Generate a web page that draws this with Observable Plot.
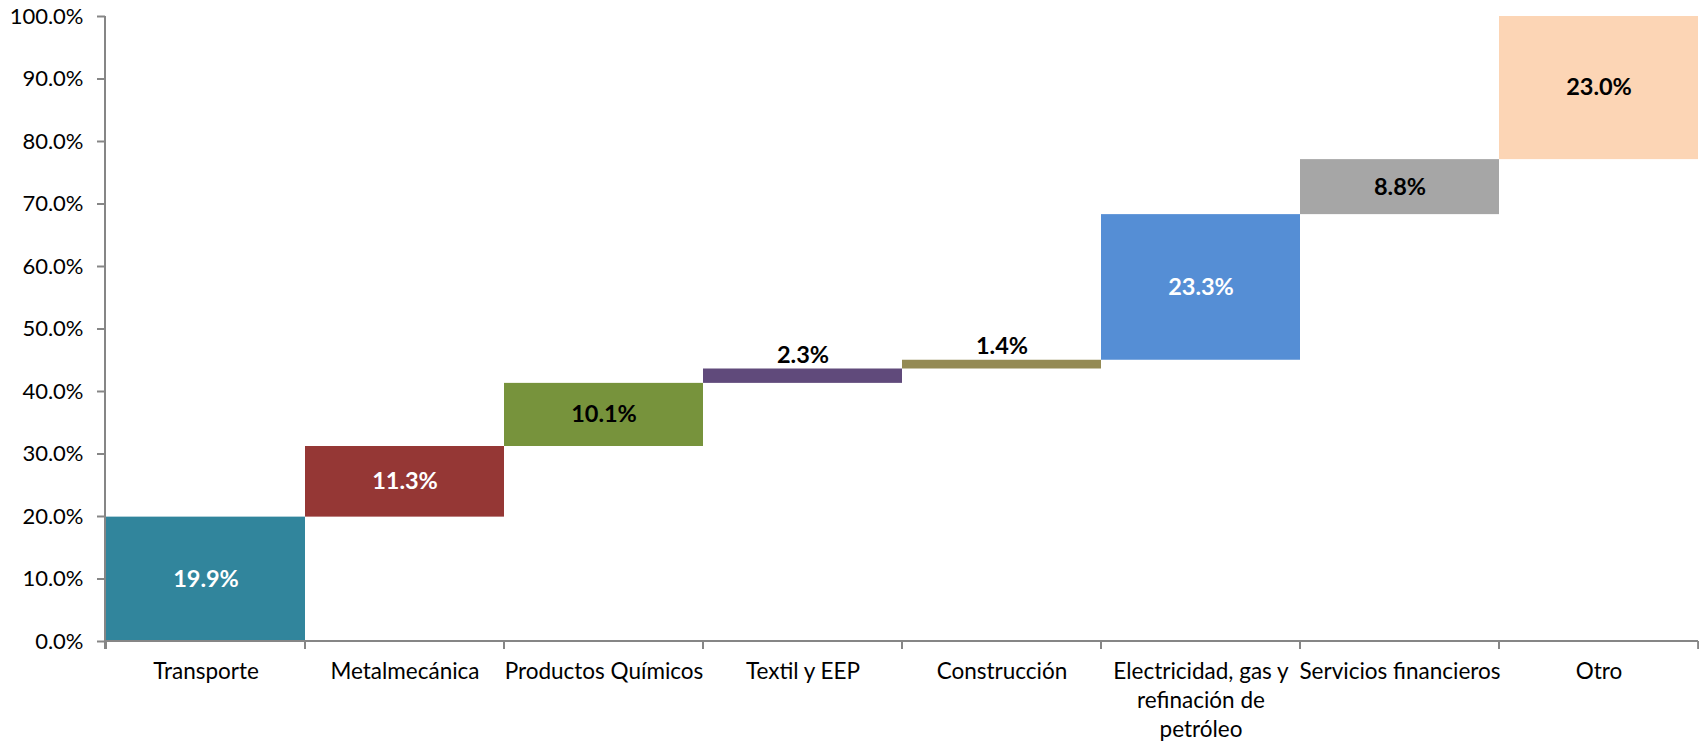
<!DOCTYPE html>
<html>
<head>
<meta charset="utf-8">
<script src="https://cdn.jsdelivr.net/npm/d3@7"></script>
<script src="https://cdn.jsdelivr.net/npm/@observablehq/plot@0.6"></script>
<style>
  html, body { margin: 0; padding: 0; background: #ffffff; }
  #chart svg { display: block; }
</style>
</head>
<body>
<div id="chart"></div>
<script>
const categories = [
  "Transporte",
  "Metalmecánica",
  "Productos Químicos",
  "Textil y EEP",
  "Construcción",
  "Electricidad, gas y\nrefinación de\npetróleo",
  "Servicios financieros",
  "Otro"
];
const shares = [19.9, 11.3, 10.1, 2.3, 1.4, 23.3, 8.8, 23.0];
const barColors = ["#31859C", "#953735", "#77933C", "#604A7B", "#948A54", "#558ED5", "#A6A6A6", "#FCD5B5"];
const labelColors = ["#ffffff", "#ffffff", "#000000", "#000000", "#000000", "#ffffff", "#000000", "#000000"];
const yTicks = [0, 10, 20, 30, 40, 50, 60, 70, 80, 90, 100];

const ends = Array.from(d3.cumsum(shares));
const data = categories.map((c, i) => ({
  cat: c,
  share: shares[i],
  start: ends[i] - shares[i],
  end: ends[i],
  color: barColors[i],
  labelColor: labelColors[i]
}));
const big = data.filter(d => d.share >= 5);
const small = data.filter(d => d.share < 5);

const W = 1699, H = 742;
const mL = 105, mR = 1, mT = 16, mB = 101;
const axisColor = "#868686";
const font = "Lato, 'Open Sans', sans-serif";

const chart = Plot.plot({
  width: W,
  height: H,
  marginLeft: mL,
  marginRight: mR,
  marginTop: mT,
  marginBottom: mB,
  style: { fontFamily: font, background: "#ffffff", overflow: "visible" },
  x: { domain: categories, padding: 0, label: null },
  y: { domain: [0, 100], clamp: true, label: null },
  marks: [
    Plot.barY(data, { x: "cat", y1: "start", y2: "end", fill: d => d.color }),
    Plot.text(big, {
      x: "cat", y: d => (d.start + d.end) / 2,
      text: d => d.share.toFixed(1) + "%",
      fill: d => d.labelColor,
      fontSize: 23.5, fontWeight: "bold", lineAnchor: "middle"
    }),
    Plot.text(small, {
      x: "cat", y: "end",
      text: d => d.share.toFixed(1) + "%",
      fill: d => d.labelColor,
      fontSize: 23.5, fontWeight: "bold", lineAnchor: "middle", dy: -14
    }),
    Plot.axisY({
      ticks: yTicks,
      tickFormat: d => d.toFixed(1) + "%",
      tickSize: 8, tickPadding: 14,
      stroke: axisColor, strokeWidth: 2, fill: "#000000",
      fontSize: 22, label: null
    }),
    Plot.axisX({
      tickSize: 0, tickPadding: 17, lineHeight: 1.28,
      fill: "#000000", fontSize: 22.5, label: null
    }),
    (index, scales, values, dims) => {
      const g = d3.create("svg:g").attr("stroke", axisColor).attr("stroke-width", 2);
      const x0 = dims.marginLeft, x1 = dims.width - dims.marginRight;
      const y0 = scales.y(0), yTop = scales.y(100);
      g.append("line").attr("x1", x0).attr("x2", x0).attr("y1", yTop).attr("y2", y0 + 8);
      g.append("line").attr("x1", x0).attr("x2", x1).attr("y1", y0).attr("y2", y0);
      const bw = (x1 - x0) / categories.length;
      const bounds = categories.map(c => scales.x(c)).concat([scales.x(categories[categories.length - 1]) + bw]);
      for (const b of bounds) {
        g.append("line").attr("x1", b).attr("x2", b).attr("y1", y0).attr("y2", y0 + 8);
      }
      return g.node();
    }
  ]
});
document.getElementById("chart").appendChild(chart);
</script>
</body>
</html>
